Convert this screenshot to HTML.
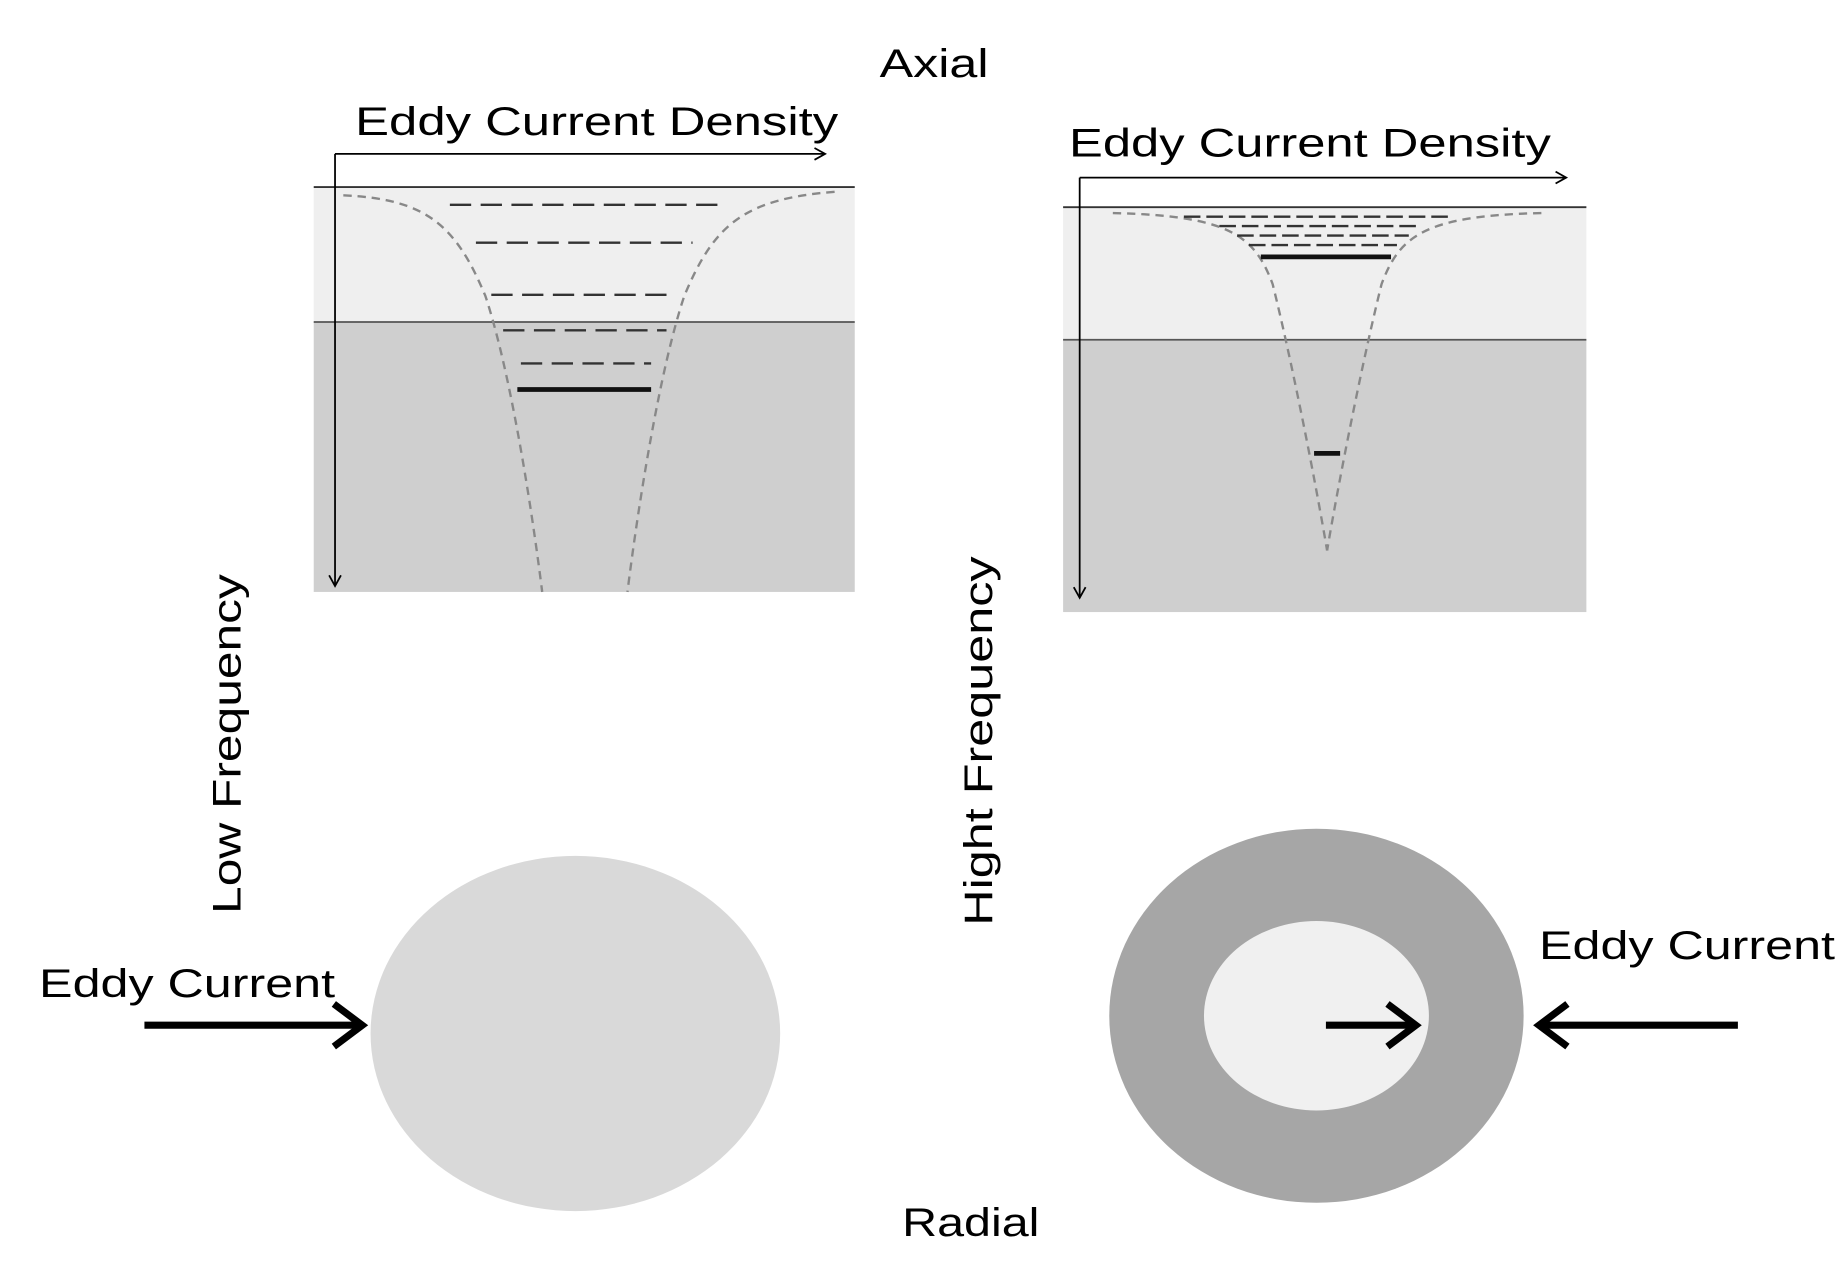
<!DOCTYPE html>
<html><head><style>html,body{margin:0;padding:0;background:#fff;}svg{display:block}</style></head>
<body>
<svg width="1848" height="1262" viewBox="0 0 1561 1066" preserveAspectRatio="none" xmlns="http://www.w3.org/2000/svg" font-family="Liberation Sans, sans-serif">
<defs>
<marker id="ah" markerWidth="12" markerHeight="12" refX="10" refY="6" orient="auto" markerUnits="userSpaceOnUse"><path d="M1,1 L10,6 L1,11" fill="none" stroke="#000" stroke-width="1.5"/></marker>
</defs>
<!-- left panel -->
<rect x="265" y="158" width="457" height="114" fill="#efefef"/>
<rect x="265" y="272" width="457" height="228" fill="#cfcfcf"/>
<line x1="265" y1="158" x2="722" y2="158" stroke="#333" stroke-width="1.5"/>
<line x1="265" y1="272" x2="722" y2="272" stroke="#555" stroke-width="1.5"/>
<g fill="none" stroke="#888" stroke-width="2" stroke-dasharray="7,5">
<path d="M290,165 C360,168 385,190 410,250 C430,310 448,420 458,500"/>
<path d="M705,162 C628,168 603,190 578,250 C558,310 540,420 530,500"/>
</g>
<g stroke="#333" stroke-width="2" stroke-dasharray="18,8">
<line x1="380" y1="173" x2="610" y2="173"/>
<line x1="402" y1="205" x2="585" y2="205"/>
<line x1="415" y1="249" x2="568" y2="249"/>
<line x1="425" y1="279" x2="563" y2="279"/>
<line x1="440" y1="307" x2="550" y2="307"/>
</g>
<line x1="437" y1="329" x2="550" y2="329" stroke="#111" stroke-width="4"/>
<line x1="283" y1="130" x2="283" y2="495" stroke="#000" stroke-width="1.5" marker-end="url(#ah)"/>
<line x1="283" y1="130" x2="697" y2="130" stroke="#000" stroke-width="1.5" marker-end="url(#ah)"/>
<text x="300" y="114" font-size="34" textLength="408" lengthAdjust="spacingAndGlyphs">Eddy Current Density</text>
<text x="743" y="65" font-size="34" textLength="92" lengthAdjust="spacingAndGlyphs">Axial</text>
<!-- right panel -->
<rect x="898" y="175" width="442" height="112" fill="#efefef"/>
<rect x="898" y="287" width="442" height="230" fill="#cfcfcf"/>
<line x1="898" y1="175" x2="1340" y2="175" stroke="#333" stroke-width="1.5"/>
<line x1="898" y1="287" x2="1340" y2="287" stroke="#555" stroke-width="1.5"/>
<g fill="none" stroke="#888" stroke-width="2" stroke-dasharray="7,5">
<path d="M940,180 C1040,182 1060,200 1075,240 C1090,300 1110,400 1121,465"/>
<path d="M1302,180 C1202,182 1182,200 1167,240 C1152,300 1132,400 1121,465"/>
</g>
<g stroke="#333" stroke-width="2" stroke-dasharray="14,5">
<line x1="1000" y1="183" x2="1225" y2="183"/>
<line x1="1030" y1="191" x2="1200" y2="191"/>
<line x1="1045" y1="199" x2="1190" y2="199"/>
<line x1="1055" y1="207" x2="1180" y2="207"/>
</g>
<line x1="1065" y1="217" x2="1175" y2="217" stroke="#111" stroke-width="4"/>
<line x1="1110" y1="383" x2="1132" y2="383" stroke="#111" stroke-width="4"/>
<line x1="912" y1="150" x2="912" y2="505" stroke="#000" stroke-width="1.5" marker-end="url(#ah)"/>
<line x1="912" y1="150" x2="1323" y2="150" stroke="#000" stroke-width="1.5" marker-end="url(#ah)"/>
<text x="903" y="132" font-size="34" textLength="407" lengthAdjust="spacingAndGlyphs">Eddy Current Density</text>
<!-- rotated labels -->
<text transform="translate(203,772) rotate(-90)" font-size="34" textLength="287" lengthAdjust="spacingAndGlyphs">Low Frequency</text>
<text transform="translate(838,782) rotate(-90)" font-size="34" textLength="312" lengthAdjust="spacingAndGlyphs">Hight Frequency</text>
<!-- ellipses -->
<ellipse cx="486" cy="873" rx="173" ry="150" fill="#d9d9d9"/>
<ellipse cx="1112" cy="858" rx="175" ry="158" fill="#a6a6a6"/>
<ellipse cx="1112" cy="858" rx="95" ry="80" fill="#f0f0f0"/>
<!-- arrows -->
<g fill="none" stroke="#000" stroke-width="6">
<line x1="122" y1="866" x2="305" y2="866"/>
<path d="M282,848 L306,866 L282,884"/>
<line x1="1120" y1="866" x2="1194" y2="866"/>
<path d="M1172,848 L1196,866 L1172,884"/>
<line x1="1468" y1="866" x2="1300" y2="866"/>
<path d="M1324,848 L1300,866 L1324,884"/>
</g>
<text x="33" y="842" font-size="34" textLength="250" lengthAdjust="spacingAndGlyphs">Eddy Current</text>
<text x="1300" y="810" font-size="34" textLength="250" lengthAdjust="spacingAndGlyphs">Eddy Current</text>
<text x="762" y="1044" font-size="34" textLength="116" lengthAdjust="spacingAndGlyphs">Radial</text>
</svg>
</body></html>
